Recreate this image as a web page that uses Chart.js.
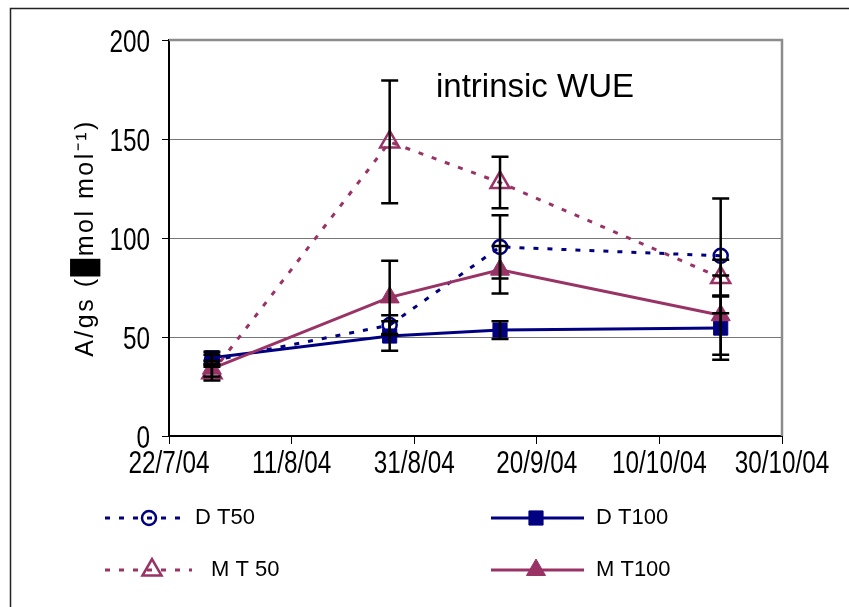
<!DOCTYPE html>
<html>
<head>
<meta charset="utf-8">
<title>intrinsic WUE</title>
<script src="https://cdn.jsdelivr.net/npm/chart.js"></script>
<style>
  html, body { margin: 0; padding: 0; background: #fff; }
  canvas { display: block; }
</style>
</head>
<body>
<canvas id="wueChart" width="849" height="607"></canvas>
<script>
// sampling dates and axis ticks
const originDate = '22/7/04';
const sampleDates = ['29/7/04', '27/8/04', '14/9/04', '20/10/04'];
const xTickLabels = ['22/7/04', '11/8/04', '31/8/04', '20/9/04', '10/10/04', '30/10/04'];

// A/gs values and error bars
const dT50 = [38, 56, 95.5, 91];
const dT50Err = [3, 5, 16, 29];
const dT100 = [39.5, 50.5, 53.5, 54.5];
const dT100Err = [3, 7.5, 4.5, 16];
const mT50 = [32, 148.5, 128, 80];
const mT50Err = [4, 31, 13, 9];
const mT100 = [34, 70, 84, 61];
const mT100Err = [4, 18.5, 12, 20];

const NAVY = '#000080';
const PLUM = '#993366';
const SANS = "'Liberation Sans', Arial, sans-serif";
const SQUEEZE = 0.76; // the original uses a narrow face for tick labels

function toDay(s) {
    const p = s.split('/').map(Number);
    return Date.UTC(2000 + p[2], p[1] - 1, p[0]) / 86400000;
}
const day0 = toDay(originDate);
const xs = sampleDates.map(d => toDay(d) - day0);

function pts(values) {
    return values.map((v, i) => ({ x: xs[i], y: v }));
}

const datasets = [
    {
        label: 'D T50', data: pts(dT50), err: dT50Err,
        borderColor: NAVY, borderWidth: 3, borderDash: [5, 9],
        pointStyle: 'circle', pointRadius: 7, pointBorderWidth: 2.5,
        pointBorderColor: NAVY, pointBackgroundColor: 'rgba(255,255,255,0)',
        order: 4
    },
    {
        label: 'D T100', data: pts(dT100), err: dT100Err,
        borderColor: NAVY, borderWidth: 3,
        pointStyle: 'rect', pointRadius: 10, pointBorderWidth: 1,
        pointBorderColor: NAVY, pointBackgroundColor: NAVY,
        order: 3
    },
    {
        label: 'M T 50', data: pts(mT50), err: mT50Err,
        borderColor: PLUM, borderWidth: 3, borderDash: [5, 9],
        pointStyle: 'triangle', pointRadius: 11, pointBorderWidth: 2.5,
        pointBorderColor: PLUM, pointBackgroundColor: 'rgba(255,255,255,0)',
        order: 2
    },
    {
        label: 'M T100', data: pts(mT100), err: mT100Err,
        borderColor: PLUM, borderWidth: 3,
        pointStyle: 'triangle', pointRadius: 11, pointBorderWidth: 1,
        pointBorderColor: PLUM, pointBackgroundColor: PLUM,
        order: 1
    }
];

function narrowText(ctx, text, x, y, align) {
    ctx.save();
    ctx.translate(x, y);
    ctx.scale(SQUEEZE, 1);
    ctx.textAlign = align;
    ctx.textBaseline = 'alphabetic';
    ctx.fillText(text, 0, 0);
    ctx.restore();
}

// error bars, frame, title, tick labels, y label and the two-column legend
const extras = {
    id: 'extras',
    beforeDatasetsDraw(chart) {
        const { ctx, chartArea: a } = chart;
        ctx.save();
        // outer frame
        ctx.strokeStyle = '#222';
        ctx.lineWidth = 1.5;
        ctx.beginPath();
        ctx.moveTo(10.5, 607);
        ctx.lineTo(10.5, 8.5);
        ctx.lineTo(849, 8.5);
        ctx.stroke();
        // grey top/right plot border
        ctx.strokeStyle = '#8c8c8c';
        ctx.lineWidth = 2.5;
        ctx.beginPath();
        ctx.moveTo(a.left, a.top);
        ctx.lineTo(a.right, a.top);
        ctx.lineTo(a.right, a.bottom);
        ctx.stroke();
        ctx.restore();
    },
    afterDatasetsDraw(chart) {
        const { ctx, scales: { x, y } } = chart;
        ctx.save();
        ctx.strokeStyle = '#000';
        ctx.lineWidth = 2.5;
        chart.data.datasets.forEach(ds => {
            ds.data.forEach((p, i) => {
                const px = x.getPixelForValue(p.x);
                const top = y.getPixelForValue(p.y + ds.err[i]);
                const bot = y.getPixelForValue(p.y - ds.err[i]);
                ctx.beginPath();
                ctx.moveTo(px, top); ctx.lineTo(px, bot);
                ctx.moveTo(px - 8.5, top); ctx.lineTo(px + 8.5, top);
                ctx.moveTo(px - 8.5, bot); ctx.lineTo(px + 8.5, bot);
                ctx.stroke();
            });
        });
        ctx.restore();
    },
    afterDraw(chart) {
        const { ctx, scales: { x, y } } = chart;
        ctx.save();
        ctx.fillStyle = '#000';
        // tick labels
        ctx.font = "32px " + SANS;
        y.ticks.forEach(t => {
            narrowText(ctx, String(t.value), 150, y.getPixelForValue(t.value) + 11.5, 'right');
        });
        x.ticks.forEach((t, i) => {
            narrowText(ctx, xTickLabels[i], x.getPixelForValue(t.value), 473, 'center');
        });
        // title inside plot
        ctx.font = "33px " + SANS;
        ctx.textAlign = 'center';
        ctx.textBaseline = 'alphabetic';
        ctx.fillText('intrinsic WUE', 535, 97);
        // y axis label
        ctx.save();
        ctx.translate(93, 238);
        ctx.rotate(-Math.PI / 2);
        ctx.font = "25px " + SANS;
        ctx.letterSpacing = '2.5px';
        ctx.fillText('A/gs (\u2588mol mol\u207B\u00B9)', 0, 0);
        ctx.restore();
        // legend
        const spots = [
            { x1: 105, x2: 187, mx: 149, tx: 195, y: 518 },
            { x1: 491, x2: 584, mx: 536, tx: 596, y: 518 },
            { x1: 105, x2: 192, mx: 152, tx: 211, y: 570 },
            { x1: 491, x2: 584, mx: 536, tx: 596, y: 570 }
        ];
        chart.data.datasets.forEach((ds, i) => {
            const s = spots[i];
            ctx.save();
            ctx.strokeStyle = ds.borderColor;
            ctx.lineWidth = ds.borderWidth;
            ctx.setLineDash(ds.borderDash || []);
            ctx.beginPath();
            ctx.moveTo(s.x1, s.y);
            ctx.lineTo(s.x2, s.y);
            ctx.stroke();
            ctx.setLineDash([]);
            ctx.fillStyle = ds.pointBackgroundColor;
            ctx.strokeStyle = ds.pointBorderColor;
            ctx.lineWidth = ds.pointBorderWidth;
            Chart.helpers.drawPoint(ctx, {
                pointStyle: ds.pointStyle, radius: ds.pointRadius,
                borderWidth: ds.pointBorderWidth, rotation: 0
            }, s.mx, s.y);
            ctx.restore();
            ctx.fillStyle = '#000';
            ctx.font = "22px " + SANS;
            ctx.textAlign = 'left';
            ctx.textBaseline = 'middle';
            ctx.fillText(ds.label, s.tx, s.y);
        });
        ctx.restore();
    }
};

new Chart(document.getElementById('wueChart'), {
    type: 'line',
    data: { datasets: datasets },
    options: {
        responsive: false,
        animation: false,
        layout: { padding: { left: 0, right: 67, top: 40, bottom: 0 } },
        plugins: { legend: { display: false }, tooltip: { enabled: false } },
        elements: { line: { tension: 0, borderCapStyle: 'butt' } },
        scales: {
            x: {
                type: 'linear',
                min: 0,
                max: 100,
                afterFit: (scale) => { scale.height = 171; },
                border: { color: '#000', width: 2 },
                grid: { drawOnChartArea: false, drawTicks: true, tickLength: 8, tickColor: '#000' },
                ticks: { stepSize: 20, autoSkip: false, maxRotation: 0, display: false }
            },
            y: {
                min: 0,
                max: 200,
                afterFit: (scale) => { scale.width = 169; },
                border: { color: '#000', width: 2 },
                grid: { color: '#777', lineWidth: 1, tickLength: 7, tickColor: '#000' },
                ticks: { stepSize: 50, display: false }
            }
        }
    },
    plugins: [extras]
});
</script>
</body>
</html>
